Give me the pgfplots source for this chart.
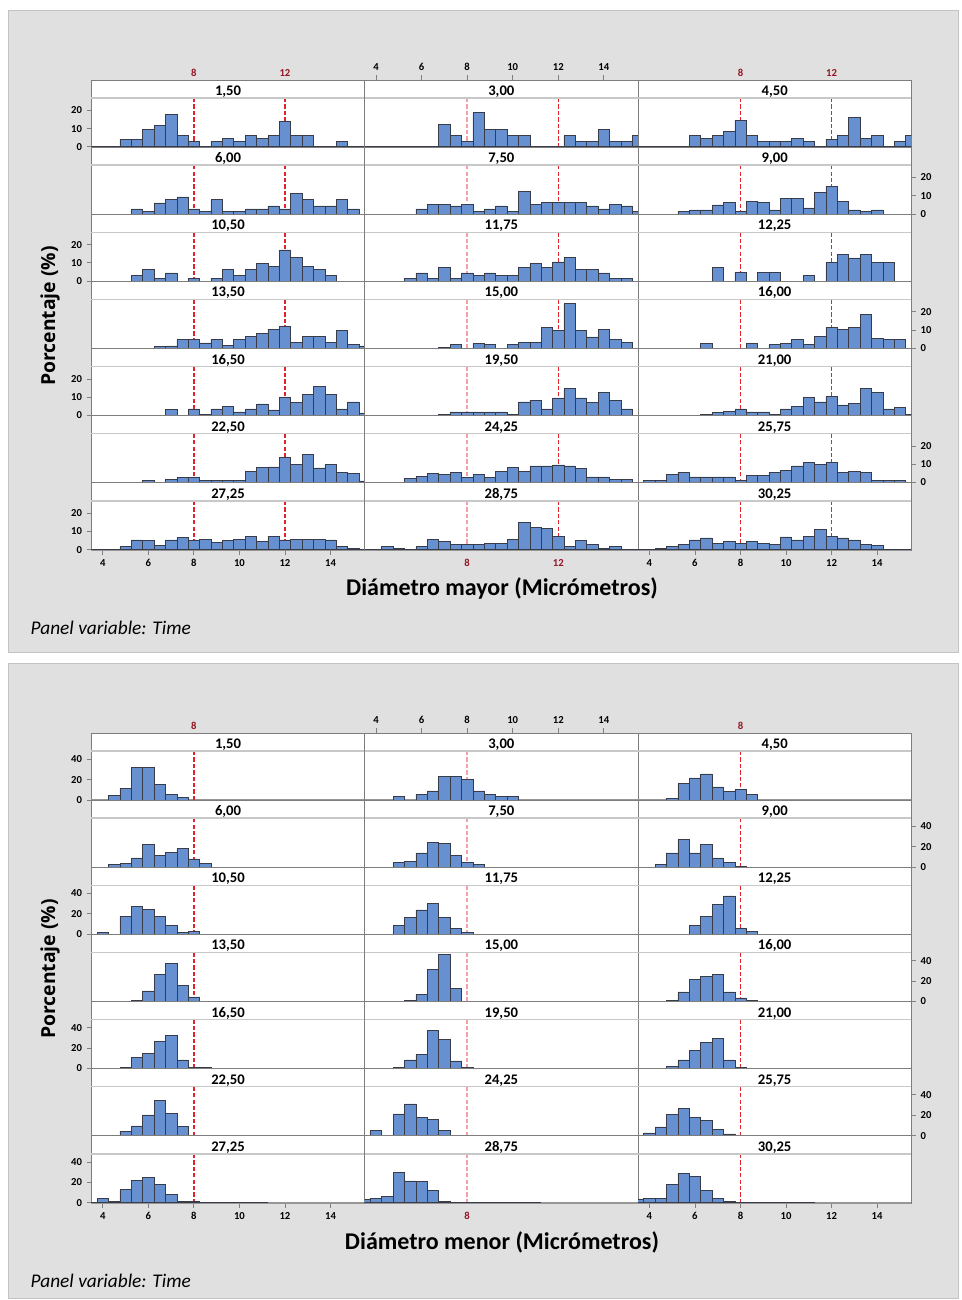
\documentclass[border=0pt]{standalone}
\usepackage{pgfplots}
\pgfplotsset{compat=1.18}
\usepackage{fontspec}
\setmainfont{Carlito}
\newfontfamily\osans{Open Sans}
\definecolor{barfill}{RGB}{102,144,208}
\definecolor{baredge}{RGB}{55,60,72}
\definecolor{boxbg}{RGB}{224,224,224}
\definecolor{boxedge}{RGB}{195,195,195}
\definecolor{refred}{RGB}{225,35,45}
\definecolor{refpink}{RGB}{245,160,168}
\definecolor{labred}{RGB}{150,20,35}
\definecolor{frameg}{RGB}{125,125,125}
\definecolor{hdrline}{RGB}{200,200,200}
\definecolor{baseg}{RGB}{150,150,150}
\newcommand\tlfont{\bfseries\fontsize{8}{9}\selectfont}
\pgfplotsset{
 panel/.style={
  scale only axis, width=204.975pt, height=50.355pt, anchor=north west,
  xmin=3.5, xmax=15.5, xtick=\empty, ytick=\empty,
  clip mode=individual,
  axis background/.style={fill=white},
  axis line style={draw=frameg, line width=0.6pt},
  tick style={draw=gray, line width=0.6pt},
  major tick length=3.5pt, tick align=outside,
  /pgf/number format/assume math mode=true,
  ticklabel style={font=\tlfont, text=black},
 },
 bars/.style={ybar, bar width=0.5, bar shift=0pt, fill=barfill, draw=baredge, line width=0.45pt},
 zline/.style={draw=baredge, line width=0.6pt, mark=none},
 refl/.style={line width=1.15pt, dash pattern=on 3.2pt off 1.6pt, mark=none},
 ylT/.style={ytick={0,10,20}, ytick pos=left},
 yrT/.style={ytick={0,10,20}, ytick pos=right},
 ylB/.style={ytick={0,20,40}, ytick pos=left},
 yrB/.style={ytick={0,20,40}, ytick pos=right},
 xU/.style={xtick={4,6,...,14}, xtick pos=right},
 xL/.style={xtick={4,6,...,14}, xtick pos=left},
}
\newcommand\rT[2]{\node[text=labred, font=\tlfont, anchor=south, inner sep=0pt, yshift=2.5pt] at (axis cs:#1,#2) {#1};}
\newcommand\rB[1]{\node[text=labred, font=\tlfont, anchor=north, inner sep=0pt, yshift=-7pt] at (axis cs:#1,-0.2) {#1};}
\newcommand\tpanel[6]{%
 \pgfmathsetmacro\PX{0.75*(91.4+273.3*#1)}%
 \pgfmathsetmacro\PY{0.75*(1220-67.14*#2)}%
 \ifnum#1=1 \def\ecol{refpink}\else\def\ecol{refred}\fi
 \begin{axis}[panel, ymin=-0.2, ymax=36.69, at={(\PX pt,\PY pt)}, #4]
  \draw[baseg, line width=1.1pt] (rel axis cs:0,0) -- (rel axis cs:1,0);
  \addplot[refl, draw=\ecol, color=\ecol] coordinates {(8,-0.2)(8,26.8)};
  \addplot[refl, draw=refred, color=refred] coordinates {(12,-0.2)(12,26.8)};
  \addplot[zline] coordinates {(3.5,0)(15.5,0)};
  \addplot[bars] coordinates {#5};
  \draw[hdrline, line width=1.1pt] (rel axis cs:0,0.7319) -- (rel axis cs:1,0.7319);
  \node[font=\bfseries\fontsize{11}{12}\selectfont, anchor=base, inner sep=0pt] at (rel axis cs:0.5,0.768) {#3};
  #6
 \end{axis}}
\newcommand\bpanel[6]{%
 \pgfmathsetmacro\PX{0.75*(91.4+273.3*#1)}%
 \pgfmathsetmacro\PY{0.75*(567-67.14*#2)}%
 \ifnum#1=1 \def\ecol{refpink}\else\def\ecol{refred}\fi
 \begin{axis}[panel, ymin=-0.2, ymax=65.66, at={(\PX pt,\PY pt)}, #4]
  \draw[baseg, line width=1.1pt] (rel axis cs:0,0) -- (rel axis cs:1,0);
  \addplot[refl, draw=\ecol, color=\ecol] coordinates {(8,-0.2)(8,48)};
  \addplot[zline] coordinates {(3.5,0)(11.25,0)};
  \addplot[bars] coordinates {#5};
  \draw[hdrline, line width=1.1pt] (rel axis cs:0,0.7319) -- (rel axis cs:1,0.7319);
  \node[font=\bfseries\fontsize{11}{12}\selectfont, anchor=base, inner sep=0pt] at (rel axis cs:0.5,0.768) {#3};
  #6
 \end{axis}}
\begin{document}
\begin{tikzpicture}
\begin{scope}[x=0.75pt,y=0.75pt]
 \fill[white] (0,0) rectangle (961,1300);
 \filldraw[fill=boxbg, draw=boxedge] (8,1290) rectangle (958,648);
 \filldraw[fill=boxbg, draw=boxedge] (8,637) rectangle (958,2);
\end{scope}
% ---------------- top chart: Diametro mayor ----------------
\tpanel{0}{0}{1,50}{ylT}{(5,4.2)(5.5,4.2)(6,9.7)(6.5,11.6)(7,17.6)(7.5,6.2)(8,2.75)(9,2.75)(9.5,4.4)(10,2.75)(10.5,6.2)(11,4.4)(11.5,6.2)(12,14)(12.5,6.2)(13,6.2)(14.5,2.75)}{\rT{8}{36.69}\rT{12}{36.69}}
\tpanel{1}{0}{3,00}{xU}{(7,12.5)(7.5,6.25)(8,3.125)(8.5,18.75)(9,9.375)(9.5,9.375)(10,6.25)(10.5,6.25)(12.5,6.25)(13,3.125)(13.5,3.125)(14,9.375)(14.5,3.125)(15,3.125)(15.5,6.25)}{}
\tpanel{2}{0}{4,50}{}{(6,6.2)(6.5,4.4)(7,6.2)(7.5,8.4)(8,14.5)(8.5,6.2)(9,2.75)(9.5,2.75)(10,2.75)(10.5,4.4)(11,2.75)(12,4.2)(12.5,6.2)(13,16.3)(13.5,4.4)(14,6.2)(15,2.75)(15.5,6.2)}{\rT{8}{36.69}\rT{12}{36.69}}
\tpanel{0}{1}{6,00}{}{(5.5,2.8)(6,1.5)(6.5,6.1)(7,7.8)(7.5,9.3)(8,2.8)(8.5,1.5)(9,7.8)(9.5,1.5)(10,1.5)(10.5,2.8)(11,2.8)(11.5,4.4)(12,2.8)(12.5,11.1)(13,7.8)(13.5,4.4)(14,4.4)(14.5,7.8)(15,2.8)}{}
\tpanel{1}{1}{7,50}{}{(6,2.8)(6.5,5.4)(7,5.4)(7.5,4.4)(8,5.4)(8.5,1.5)(9,2.8)(9.5,4.4)(10,1.5)(10.5,12.4)(11,5.4)(11.5,6.5)(12,6.5)(12.5,6.5)(13,6.5)(13.5,4.4)(14,2.8)(14.5,5.4)(15,4.4)(15.5,1.5)}{}
\tpanel{2}{1}{9,00}{yrT}{(5.5,1.5)(6,2.2)(6.5,2.2)(7,5)(7.5,6.5)(8,1.5)(8.5,7)(9,6.5)(9.5,2.2)(10,8.7)(10.5,8.7)(11,3.3)(11.5,11.9)(12,15.2)(12.5,7)(13,2.2)(13.5,1.5)(14,2.2)}{}
\tpanel{0}{2}{10,50}{ylT}{(5.5,3.3)(6,6.4)(6.5,1.6)(7,4.5)(8,1.6)(9,1.6)(9.5,6.4)(10,3.3)(10.5,6.4)(11,9.6)(11.5,8.2)(12,17.1)(12.5,13)(13,8.2)(13.5,6.4)(14,3.3)}{}
\tpanel{1}{2}{11,75}{}{(5.5,1.6)(6,4.5)(6.5,1.6)(7,7.6)(7.5,1.6)(8,4.5)(8.5,2.9)(9,4.5)(9.5,2.9)(10,2.9)(10.5,7.6)(11,9.6)(11.5,7.6)(12,10.5)(12.5,13)(13,6.2)(13.5,6.2)(14,4.5)(14.5,1.6)(15,1.6)}{}
\tpanel{2}{2}{12,25}{}{(7,7.6)(8,4.9)(9,4.9)(9.5,4.9)(11,2.9)(12,10.2)(12.5,14.5)(13,12.7)(13.5,14.5)(14,10.2)(14.5,10.2)}{}
\tpanel{0}{3}{13,50}{}{(6.5,1)(7,1.3)(7.5,4.9)(8,4.9)(8.5,2.9)(9,4.9)(9.5,1.6)(10,4.9)(10.5,6.4)(11,8.2)(11.5,10.4)(12,12)(12.5,3.1)(13,6.5)(13.5,6.5)(14,3.1)(14.5,9.6)(15,2)(15.5,1.3)}{}
\tpanel{1}{3}{15,00}{}{(7,0.3)(7.5,2)(8.5,2.7)(9,2)(10,2)(10.5,3.3)(11,3.3)(11.5,11.3)(12,9.6)(12.5,24.5)(13,9.6)(13.5,6.2)(14,10.4)(14.5,4.9)(15,3.1)}{}
\tpanel{2}{3}{16,00}{yrT}{(6.5,2.7)(8.5,2.7)(9.5,2)(10,2.7)(10.5,4.9)(11,2)(11.5,6.5)(12,11.5)(12.5,10.4)(13,11.5)(13.5,18.7)(14,5.5)(14.5,4.9)(15,4.9)}{}
\tpanel{0}{4}{16,50}{ylT}{(7,3.1)(8,3.5)(8.5,0.7)(9,3.5)(9.5,5)(10,1.9)(10.5,3.5)(11,6.3)(11.5,3)(12,9.8)(12.5,6.9)(13,11.7)(13.5,15.7)(14,11.7)(14.5,3.5)(15,7.4)(15.5,1.3)}{}
\tpanel{1}{4}{19,50}{}{(7,0.4)(7.5,1.9)(8,1.9)(8.5,1.9)(9,1.9)(9.5,1.9)(10,0.4)(10.5,7.4)(11,8.3)(11.5,3.5)(12,9.6)(12.5,14.6)(13,9.6)(13.5,6.9)(14,12.8)(14.5,8.1)(15,3.5)}{}
\tpanel{2}{4}{21,00}{}{(6.5,0.4)(7,1.5)(7.5,2)(8,3.5)(8.5,1.9)(9,1.9)(9.5,0.4)(10,3.5)(10.5,4.8)(11,9.8)(11.5,7.4)(12,10.4)(12.5,5.7)(13,6.7)(13.5,14.6)(14,12.8)(14.5,3.5)(15,4.3)(15.5,0.4)}{}
\tpanel{0}{5}{22,50}{}{(6,1.3)(7,1.9)(7.5,2.8)(8,2.8)(8.5,1.3)(9,1.3)(9.5,1.3)(10,1.3)(10.5,6.3)(11,8.1)(11.5,8.5)(12,13.9)(12.5,9.8)(13,15.6)(13.5,8)(14,9.8)(14.5,5.7)(15,5.2)(15.5,0.9)}{}
\tpanel{1}{5}{24,25}{}{(5.5,2.2)(6,3.3)(6.5,4.8)(7,4.4)(7.5,5.7)(8,2.8)(8.5,4.4)(9,2.8)(9.5,6.1)(10,8.1)(10.5,6.1)(11,9.1)(11.5,9.1)(12,9.6)(12.5,9.1)(13,7.8)(13.5,3.1)(14,3.1)(14.5,1.5)(15,1.5)}{}
\tpanel{2}{5}{25,75}{yrT}{(4,1.3)(4.5,1.3)(5,4.4)(5.5,5.7)(6,3.1)(6.5,3.1)(7,3.1)(7.5,3.1)(8,1.3)(8.5,4.1)(9,4.1)(9.5,5.6)(10,6.7)(10.5,9.1)(11,11.1)(11.5,9.8)(12,11.1)(12.5,5.7)(13,6.3)(13.5,5.7)(14,1.3)(14.5,1.3)(15,1.3)}{}
\tpanel{0}{6}{27,25}{ylT,xL}{(5,1.7)(5.5,5.3)(6,4.9)(6.5,2.3)(7,5.3)(7.5,6.8)(8,4.9)(8.5,5.8)(9,3.8)(9.5,4.9)(10,5.7)(10.5,7.4)(11,4.7)(11.5,7.4)(12,5.3)(12.5,5.7)(13,5.7)(13.5,5.7)(14,5.3)(14.5,1.9)(15,0.8)}{}
\tpanel{1}{6}{28,75}{}{(4.5,1.7)(5,0.6)(6,1.7)(6.5,5.7)(7,4.7)(7.5,2.8)(8,2.8)(8.5,2.8)(9,3.6)(9.5,3.6)(10,5.7)(10.5,15.1)(11,12.3)(11.5,11.5)(12,7.2)(12.5,1.9)(13,4.9)(13.5,2.8)(14,0.6)(14.5,1.7)}{\rB{8}\rB{12}}
\tpanel{2}{6}{30,25}{xL}{(4.5,0.6)(5,1.7)(5.5,2.8)(6,5.3)(6.5,6.4)(7,3.4)(7.5,4.7)(8,3.4)(8.5,4.5)(9,3.4)(9.5,2.8)(10,7)(10.5,5.3)(11,7.2)(11.5,11.3)(12,7.2)(12.5,6.4)(13,5.3)(13.5,2.8)(14,2.1)}{}
% ---------------- bottom chart: Diametro menor ----------------
\bpanel{0}{0}{1,50}{ylB}{(4.5,4.3)(5,11.1)(5.5,32.1)(6,32.1)(6.5,15.1)(7,5.6)(7.5,2.6)}{\rT{8}{65.66}}
\bpanel{1}{0}{3,00}{xU}{(5,3.3)(6,5.6)(6.5,8.9)(7,23)(7.5,23)(8,20.3)(8.5,8.9)(9,5.6)(9.5,3.3)(10,3.3)}{}
\bpanel{2}{0}{4,50}{}{(5,1.6)(5.5,16)(6,21.6)(6.5,25.6)(7,12.8)(7.5,8.2)(8,10.2)(8.5,5.6)}{\rT{8}{65.66}}
\bpanel{0}{1}{6,00}{}{(4.5,2.3)(5,3.7)(5.5,9)(6,22.3)(6.5,11.3)(7,14.7)(7.5,18)(8,8)(8.5,3.7)}{}
\bpanel{1}{1}{7,50}{}{(5,4.7)(5.5,5.7)(6,14)(6.5,24)(7,23)(7.5,11.3)(8,4.7)(8.5,2.3)}{}
\bpanel{2}{1}{9,00}{yrB}{(4.5,2.3)(5,14)(5.5,27.3)(6,14)(6.5,22.3)(7,9)(7.5,4.7)(8,0.7)}{}
\bpanel{0}{2}{10,50}{ylB}{(4,2)(5,17.5)(5.5,27)(6,24.2)(6.5,17.5)(7,8.4)(7.5,2)(8,3)}{}
\bpanel{1}{2}{11,75}{}{(5,8.4)(5.5,16.8)(6,23.9)(6.5,30)(7,16.8)(7.5,5.7)(8,2)}{}
\bpanel{2}{2}{12,25}{}{(6,8.4)(6.5,17.8)(7,29.2)(7.5,37.6)(8,5.7)(8.5,3)}{}
\bpanel{0}{3}{13,50}{}{(5.5,0.7)(6,10.2)(6.5,26.6)(7,36.9)(7.5,16)(8,4.4)}{}
\bpanel{1}{3}{15,00}{}{(5.5,0.7)(6,6.5)(6.5,31.4)(7,46)(7.5,12.6)}{}
\bpanel{2}{3}{16,00}{yrB}{(5,0.7)(5.5,9.2)(6,21.5)(6.5,24.6)(7,26.6)(7.5,9.2)(8,3.4)(8.5,0.7)}{}
\bpanel{0}{4}{16,50}{ylB}{(5,0.7)(5.5,10.9)(6,14.7)(6.5,26.6)(7,32.4)(7.5,8.5)(8,0.7)(8.5,0.7)}{}
\bpanel{1}{4}{19,50}{}{(5,0.7)(5.5,8.5)(6,13.7)(6.5,37.5)(7,28.3)(7.5,7.5)(8,0.7)}{}
\bpanel{2}{4}{21,00}{}{(5,2.4)(5.5,8.5)(6,17.4)(6.5,25.9)(7,29.7)(7.5,8.5)(8,0.7)}{}
\bpanel{0}{5}{22,50}{}{(5,4.4)(5.5,9.5)(6,20.3)(6.5,34.9)(7,22)(7.5,8.8)}{}
\bpanel{1}{5}{24,25}{}{(4,5.4)(5,21.4)(5.5,31.2)(6,17.6)(6.5,16.3)(7,5.4)}{}
\bpanel{2}{5}{25,75}{yrB}{(4,2.7)(4.5,8.5)(5,21)(5.5,26.4)(6,18)(6.5,15.3)(7,6.1)(7.5,1.7)}{}
\bpanel{0}{6}{27,25}{ylB,xL}{(3.5,0.7)(4,4.4)(4.5,1)(5,13)(5.5,22)(6,24.9)(6.5,18)(7,8.5)(7.5,1)(8,1)}{}
\bpanel{1}{6}{28,75}{}{(3.5,3.5)(4,4.3)(4.5,6.2)(5,29.7)(5.5,21.5)(6,20.8)(6.5,12)(7,1)}{\rB{8}}
\bpanel{2}{6}{30,25}{xL}{(3.5,3.8)(4,4.4)(4.5,4.4)(5,18)(5.5,28.7)(6,26)(6.5,12.3)(7,4.4)(7.5,1)}{}
% ---------------- titles ----------------
\begin{scope}[x=0.75pt,y=0.75pt]
 \node[rotate=90, font=\osans\bfseries\fontsize{14.5}{16}\selectfont] at (50,984) {Porcentaje (\%)};
 \node[rotate=90, font=\osans\bfseries\fontsize{14.5}{16}\selectfont] at (50,331) {Porcentaje (\%)};
 \node[font=\bfseries\fontsize{18}{20}\selectfont] at (502,712) {Diámetro mayor (Micrómetros)};
 \node[font=\bfseries\fontsize{18}{20}\selectfont] at (502,58) {Diámetro menor (Micrómetros)};
 \node[anchor=west, font=\itshape\fontsize{14.5}{16}\selectfont] at (26,672) {Panel variable: Time};
 \node[anchor=west, font=\itshape\fontsize{14.5}{16}\selectfont] at (26,19) {Panel variable: Time};
\end{scope}
\end{tikzpicture}
\end{document}
